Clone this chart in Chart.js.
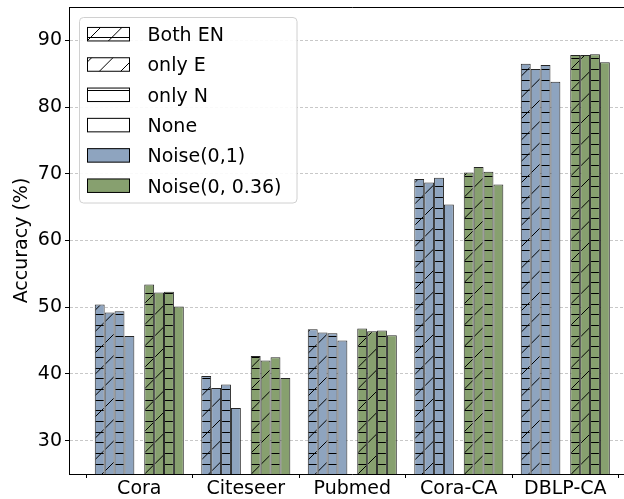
<!DOCTYPE html>
<html>
<head>
<meta charset="utf-8">
<script src="https://cdn.jsdelivr.net/npm/chart.js@4/dist/chart.umd.min.js"></script>
<style>
  html, body { margin: 0; padding: 0; background: #fff; overflow: hidden; }
  #wrap { width: 640px; height: 499px; }
</style>
</head>
<body>
<div id="wrap"><canvas id="c" width="640" height="499"></canvas></div>
<script>
// ---- data ----
const categories = ['Cora', 'Citeseer', 'Pubmed', 'Cora-CA', 'DBLP-CA'];
const variantLabels = ['Both EN', 'only E', 'only N', 'None'];
const noiseLabels = ['Noise(0,1)', 'Noise(0, 0.36)'];
const yTicks = [30, 40, 50, 60, 70, 80, 90];

// Noise(0,1)
const noise1BothEN = [50.4, 39.7, 46.7, 69.2, 86.5];
const noise1OnlyE  = [49.2, 37.9, 46.2, 68.7, 85.7];
const noise1OnlyN  = [49.4, 38.4, 46.1, 69.4, 86.3];
const noise1None   = [45.7, 34.9, 45.0, 65.4, 83.8];
// Noise(0, 0.36)
const noise2BothEN = [53.4, 42.7, 46.8, 70.2, 87.8];
const noise2OnlyE  = [52.2, 42.0, 46.4, 71.0, 87.8];
const noise2OnlyN  = [52.3, 42.5, 46.5, 70.3, 87.9];
const noise2None   = [50.1, 39.4, 45.8, 68.4, 86.7];

// ---- styles ----
const BLUE = '#8ea4bf';
const GREEN = '#87a06f';
const hatchStyles = ['/-', '/', '-', ''];
const FONT = 'DejaVu Sans';
Chart.defaults.font.family = FONT;
Chart.defaults.color = '#000';

function makePattern(color, hatch) {
  const S = 64;
  const c = document.createElement('canvas');
  c.width = S; c.height = S;
  const g = c.getContext('2d');
  g.fillStyle = color;
  g.fillRect(0, 0, S, S);
  g.strokeStyle = '#000';
  g.fillStyle = '#000';
  g.lineWidth = 1;
  if (hatch.includes('/')) {
    const step = S / 3;
    for (let k = -1; k <= 7; k++) {
      const cc = k * step;
      g.beginPath();
      g.moveTo(-10, cc + 10);
      g.lineTo(S + 10, cc - S - 10);
      g.stroke();
    }
  }
  if (hatch.includes('-')) {
    for (let k = 0; k < 6; k++) {
      const y = Math.round(k * S / 6) + 5;
      g.fillRect(0, y % S, S, 1);
    }
  }
  return g.createPattern(c, 'repeat');
}

const blueSeries = [noise1BothEN, noise1OnlyE, noise1OnlyN, noise1None];
const greenSeries = [noise2BothEN, noise2OnlyE, noise2OnlyN, noise2None];

function ds(label, data, color, hatch) {
  return {
    label, data,
    backgroundColor: makePattern(color, hatch),
    borderColor: 'rgba(0,0,0,0.85)',
    borderWidth: 1,
    borderSkipped: 'start'
  };
}

const datasets = [];
blueSeries.forEach((d, i) => datasets.push(ds(noiseLabels[0] + ' ' + variantLabels[i], d, BLUE, hatchStyles[i])));
datasets.push({ label: 'spacer', data: categories.map(() => null), backgroundColor: 'rgba(0,0,0,0)', borderWidth: 0 });
greenSeries.forEach((d, i) => datasets.push(ds(noiseLabels[1] + ' ' + variantLabels[i], d, GREEN, hatchStyles[i])));

const legendPlugin = {
  id: 'mplLegend',
  afterDraw(chart) {
    const ctx = chart.ctx;
    const a = chart.chartArea;
    const fx = a.left + 10.5, fy = a.top + 10.5, fw = 217.5, fh = 185.5, r = 4;
    ctx.save();
    ctx.beginPath();
    ctx.moveTo(fx + r, fy);
    ctx.arcTo(fx + fw, fy, fx + fw, fy + fh, r);
    ctx.arcTo(fx + fw, fy + fh, fx, fy + fh, r);
    ctx.arcTo(fx, fy + fh, fx, fy, r);
    ctx.arcTo(fx, fy, fx + fw, fy, r);
    ctx.closePath();
    ctx.fillStyle = 'rgba(255,255,255,0.9)';
    ctx.fill();
    ctx.strokeStyle = '#d0d0d0';
    ctx.lineWidth = 1;
    ctx.stroke();

    const items = [];
    variantLabels.forEach((l, i) => items.push({ label: l, fill: makePattern('#ffffff', hatchStyles[i]) }));
    items.push({ label: noiseLabels[0], fill: BLUE });
    items.push({ label: noiseLabels[1], fill: GREEN });

    ctx.font = '19px "' + FONT + '"';
    ctx.textBaseline = 'alphabetic';
    ctx.textAlign = 'left';
    items.forEach((it, i) => {
      const cy = fy + 16.7 + i * 30.3;
      const px = fx + 8, pw = 42, ph = 13.5;
      ctx.fillStyle = it.fill;
      ctx.fillRect(px, cy - ph / 2, pw, ph);
      ctx.strokeStyle = '#000';
      ctx.lineWidth = 1;
      ctx.strokeRect(px, cy - ph / 2, pw, ph);
      ctx.fillStyle = '#000';
      ctx.fillText(it.label, fx + 68, cy + 6.9);
    });
    ctx.restore();
  }
};

const frameTopPlugin = {
  id: 'frameTop',
  afterDatasetsDraw(chart) {
    const ctx = chart.ctx, a = chart.chartArea;
    ctx.save();
    ctx.strokeStyle = '#000';
    ctx.lineWidth = 1;
    ctx.beginPath();
    ctx.moveTo(a.left, a.top + 0.5);
    ctx.lineTo(a.right, a.top + 0.5);
    ctx.moveTo(a.right - 0.5, a.top);
    ctx.lineTo(a.right - 0.5, a.bottom);
    ctx.stroke();
    ctx.restore();
  }
};

new Chart(document.getElementById('c'), {
  type: 'bar',
  data: { labels: categories.map((_, i) => i), datasets },
  plugins: [frameTopPlugin, legendPlugin],
  options: {
    responsive: false,
    animation: false,
    layout: { padding: { top: 7, right: 4.4, left: 0, bottom: 0 } },
    plugins: { legend: { display: false }, tooltip: { enabled: false } },
    datasets: { bar: { categoryPercentage: 0.836, barPercentage: 1.0 } },
    scales: {
      x: {
        type: 'linear',
        min: -0.66, max: 4.66,
        offset: false,
        afterBuildTicks(scale) { scale.ticks = categories.map((_, i) => ({ value: i })); },
        afterFit(scale) { scale.height = 25; scale.paddingLeft = 0; scale.paddingRight = 0; },
        ticks: {
          callback: (v) => categories[v] ?? '',
          font: { size: 19 }, color: '#000', padding: 0, maxRotation: 0, autoSkip: false
        },
        grid: { drawOnChartArea: false, drawTicks: true, tickLength: 4, tickColor: '#000', color: '#000' },
        border: { display: true, color: '#000', width: 1 }
      },
      y: {
        min: 25, max: 95,
        afterBuildTicks(scale) { scale.ticks = yTicks.map(v => ({ value: v })); },
        afterFit(scale) { scale.width = 69; scale.paddingTop = 0; scale.paddingBottom = 0; },
        ticks: { font: { size: 19 }, color: '#000', padding: 3 },
        grid: { color: '#c8c8c8', lineWidth: 1, drawTicks: true, tickLength: 4, tickColor: '#000', tickBorderDash: [] },
        border: { display: true, color: '#000', width: 1, dash: [3, 2] },
        title: { display: true, text: 'Accuracy (%)', font: { size: 19 }, color: '#000', padding: { top: 11, bottom: 0 } }
      }
    }
  }
});
</script>
</body>
</html>
